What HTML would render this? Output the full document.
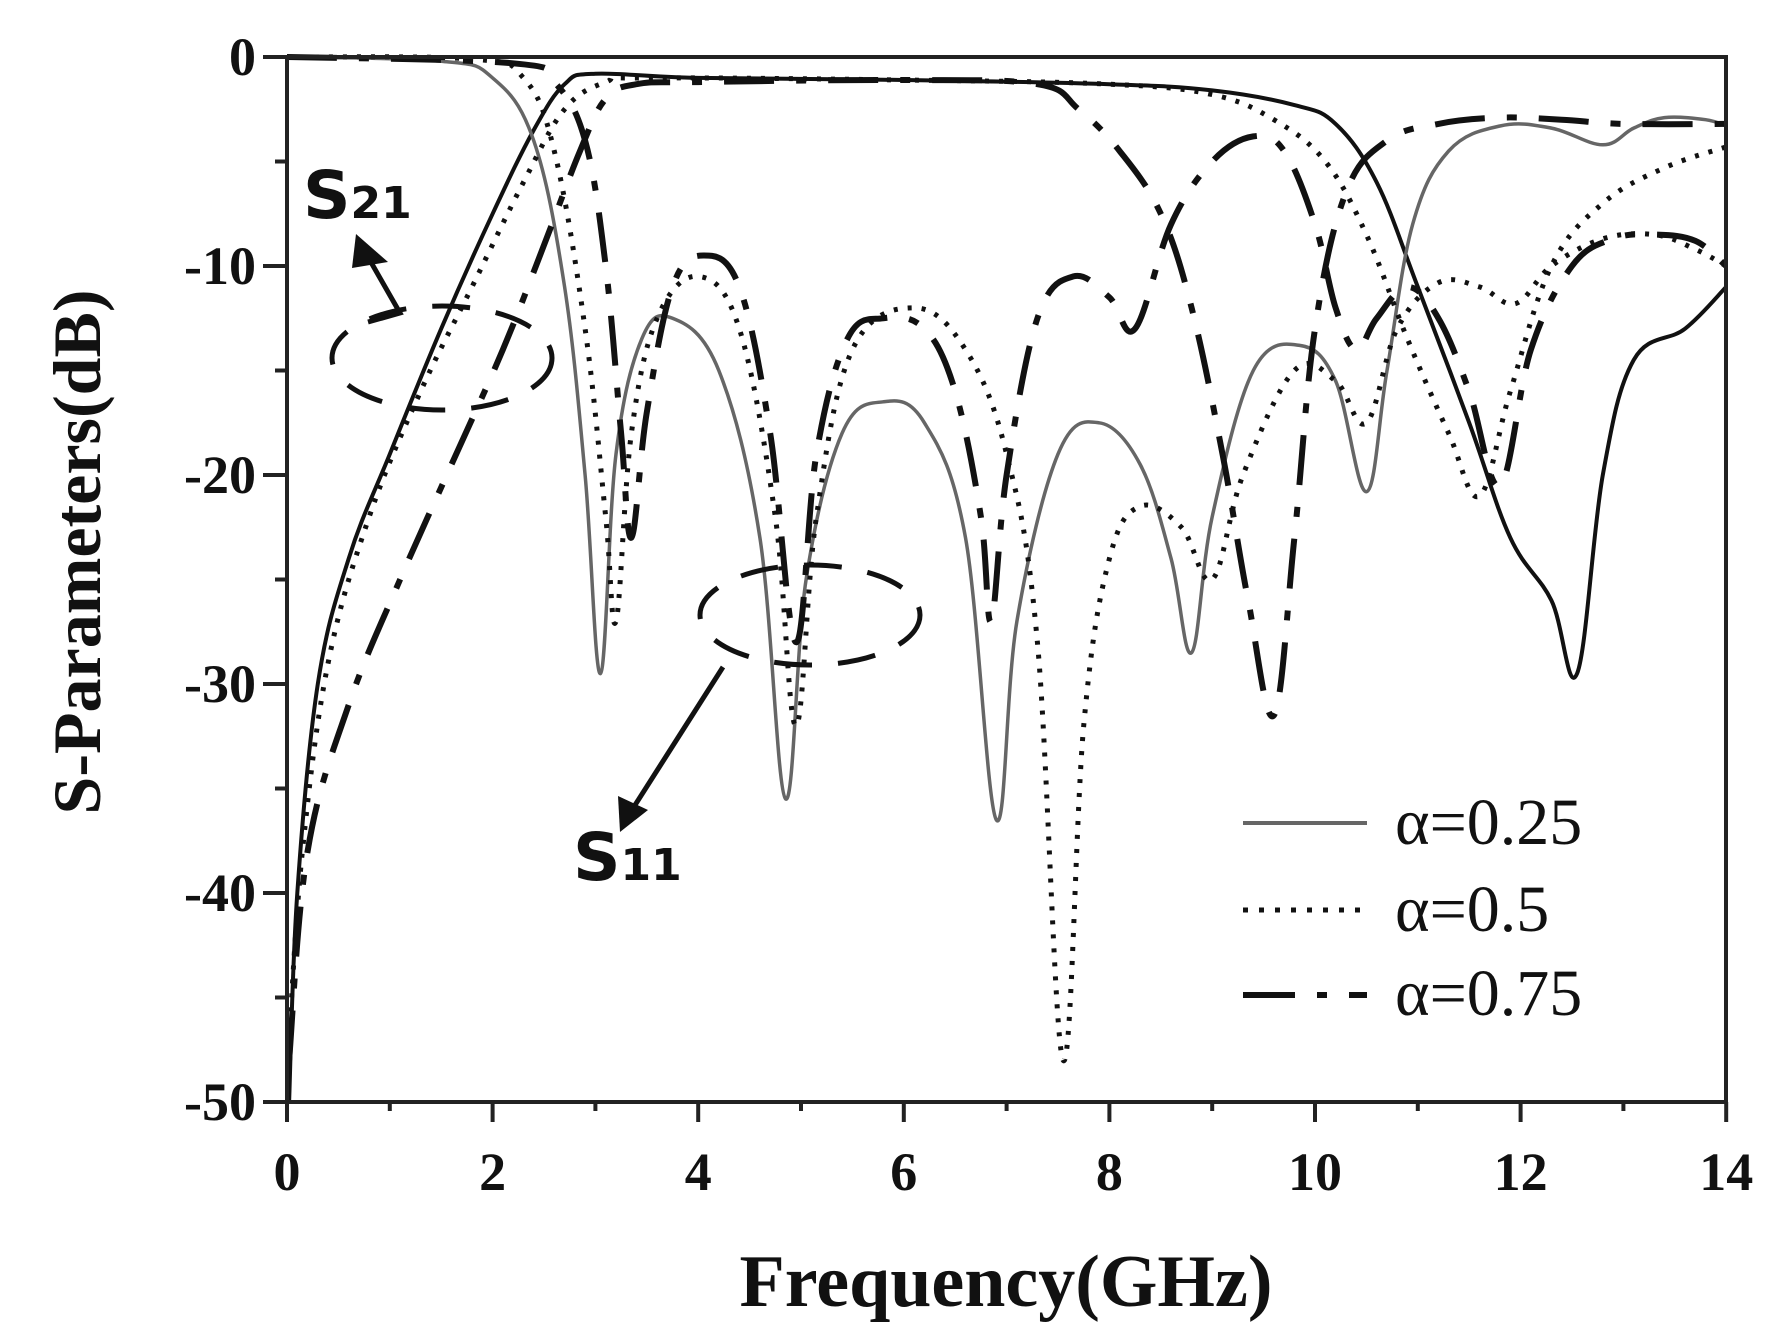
<!DOCTYPE html>
<html><head><meta charset="utf-8"><style>
html,body{margin:0;padding:0;background:#fff}
svg{display:block}
.tk{font-family:"Liberation Serif",serif;font-weight:bold;font-size:54px;fill:#111}
</style></head><body>
<svg id="s" width="1791" height="1342" viewBox="0 0 1791 1342" xmlns="http://www.w3.org/2000/svg">
<rect width="1791" height="1342" fill="#fff"/>
<g id="curves" fill="none" stroke-linejoin="round"></g>
<rect x="287" y="57" width="1439" height="1045" fill="none" stroke="#222" stroke-width="4"/>
<g id="ticks" stroke="#222" stroke-width="4"></g>
<g id="labels"></g>
<text x="1006" y="1306" text-anchor="middle" font-family="Liberation Serif,serif" font-weight="bold" font-size="74" fill="#111">Frequency(GHz)</text>
<text transform="translate(100,552) rotate(-90)" text-anchor="middle" font-family="Liberation Serif,serif" font-weight="bold" font-size="68" fill="#111">S-Parameters(dB)</text>
<ellipse cx="442" cy="358" rx="110" ry="52" fill="none" stroke="#111" stroke-width="5" stroke-dasharray="38,26"/>
<ellipse cx="810" cy="615" rx="110" ry="50" fill="none" stroke="#111" stroke-width="5" stroke-dasharray="38,26"/>
<polyline points="368,322 400,313 364,250" fill="none" stroke="#111" stroke-width="5"/>
<polygon points="356,234 388,262 352,268" fill="#111"/>
<line x1="723" y1="667" x2="630" y2="813" stroke="#111" stroke-width="5"/>
<polygon points="620,832 618,796 648,810" fill="#111"/>
<text x="303" y="218" font-family="DejaVu Sans,sans-serif" font-weight="bold" font-size="66" fill="#111">S<tspan font-size="44">21</tspan></text>
<text x="573" y="880" font-family="DejaVu Sans,sans-serif" font-weight="bold" font-size="66" fill="#111">S<tspan font-size="44">11</tspan></text>
<line x1="1243" y1="823" x2="1367" y2="823" stroke="#666" stroke-width="4"/>
<line x1="1243" y1="910" x2="1367" y2="910" stroke="#111" stroke-width="5" stroke-dasharray="5,11"/>
<line x1="1243" y1="995" x2="1367" y2="995" stroke="#111" stroke-width="6" stroke-dasharray="52,22,10,22,16,0"/>
<g font-family="Liberation Serif,serif" font-size="66" fill="#111">
<text x="1395" y="844">α=0.25</text>
<text x="1395" y="931">α=0.5</text>
<text x="1395" y="1015">α=0.75</text>
</g>
</svg>
<script>
var X=function(f){return 287+102.8*f}, Y=function(d){return 57-20.9*d};
var NS="http://www.w3.org/2000/svg";
function path(pts,attrs){
  var p=pts.map(function(a){return [X(a[0]),Y(a[1])]});
  var d="M"+p[0][0].toFixed(1)+","+p[0][1].toFixed(1);
  for(var i=0;i<p.length-1;i++){
    var p0=p[i-1]||p[i],p1=p[i],p2=p[i+1],p3=p[i+2]||p2;
    var t=0.18;
    var c1=[p1[0]+(p2[0]-p0[0])*t,p1[1]+(p2[1]-p0[1])*t];
    var c2=[p2[0]-(p3[0]-p1[0])*t,p2[1]-(p3[1]-p1[1])*t];
    d+="C"+c1[0].toFixed(1)+","+c1[1].toFixed(1)+" "+c2[0].toFixed(1)+","+c2[1].toFixed(1)+" "+p2[0].toFixed(1)+","+p2[1].toFixed(1);
  }
  var e=document.createElementNS(NS,"path");e.setAttribute("d",d);
  for(var k in attrs)e.setAttribute(k,attrs[k]);
  document.getElementById("curves").appendChild(e);
}
var solidG={stroke:"#666","stroke-width":3.5};
var solidB={stroke:"#111","stroke-width":4};
var dot={stroke:"#111","stroke-width":5,"stroke-dasharray":"4,10","stroke-linecap":"butt"};
var dd={stroke:"#111","stroke-width":6,"stroke-dasharray":"50,22,10,22"};
path([[0.02,-50],[0.1,-40],[0.3,-30],[0.6,-24],[1.0,-19],[1.5,-13],[2.0,-7.5],[2.4,-3.5],[2.7,-1.3],[3.0,-0.8],[4,-1],[6,-1.1],[8,-1.3],[9,-1.6],[9.8,-2.3],[10.2,-3.2],[10.6,-6],[11.0,-11],[11.5,-17.5],[11.9,-23],[12.3,-26],[12.55,-29.5],[12.8,-20],[13.1,-14.5],[13.6,-13],[14,-11]],solidB);
path([[0,0],[1.5,-0.2],[2.0,-1],[2.4,-4],[2.7,-11],[2.9,-20],[3.05,-29.5],[3.2,-19],[3.45,-13.5],[3.75,-12.5],[4.2,-15],[4.6,-23],[4.85,-35.5],[5.05,-25],[5.4,-18],[5.8,-16.5],[6.2,-17.5],[6.6,-23],[6.9,-36.5],[7.1,-27],[7.5,-19],[7.9,-17.5],[8.3,-19.5],[8.6,-24],[8.8,-28.5],[9.0,-22],[9.4,-15],[9.85,-13.8],[10.2,-15.5],[10.5,-20.8],[10.7,-15],[10.95,-8],[11.3,-4.5],[11.8,-3.3],[12.3,-3.4],[12.8,-4.2],[13.1,-3.4],[13.4,-2.9],[13.8,-3],[14,-3.3]],solidG);
path([[0.02,-47],[0.15,-38],[0.4,-29],[0.8,-22],[1.3,-16],[1.8,-11],[2.3,-6],[2.7,-2.5],[3.1,-1.2],[3.5,-1],[6,-1.1],[8,-1.3],[9,-1.8],[9.6,-3],[10.1,-5],[10.5,-8.5],[10.9,-13.5],[11.3,-18],[11.6,-21],[11.9,-16],[12.3,-10],[12.8,-7],[13.4,-5.3],[14,-4.3]],dot);
path([[0,0],[1.8,-0.1],[2.3,-1],[2.6,-4.5],[2.9,-13],[3.1,-22],[3.2,-27],[3.35,-18],[3.6,-12.5],[4.0,-10.5],[4.4,-13],[4.75,-22],[4.95,-32],[5.15,-22],[5.5,-14],[6.1,-12],[6.6,-14],[7.0,-19],[7.3,-28],[7.55,-48],[7.75,-32],[8.0,-24],[8.3,-21.5],[8.7,-22.5],[9.0,-25],[9.3,-20],[9.8,-15],[10.2,-15.5],[10.5,-17.5],[10.8,-13],[11.2,-10.8],[11.6,-11],[11.95,-11.8],[12.3,-10],[12.8,-8.7],[13.3,-8.5],[13.7,-9.2],[14,-10]],dot);
path([[0.02,-48],[0.2,-38],[0.6,-31],[1.1,-25],[1.6,-19.5],[2.1,-14],[2.5,-9],[2.85,-4.5],[3.1,-2],[3.4,-1.3],[4,-1.2],[6,-1.1],[7.3,-1.3],[7.7,-2.5],[8.1,-4.5],[8.5,-7.5],[8.8,-12],[9.1,-19],[9.35,-26],[9.6,-31.5],[9.8,-23],[10.0,-13],[10.3,-6.5],[10.7,-4],[11.2,-3.2],[11.8,-2.9],[12.4,-3],[13,-3.2],[14,-3.2]],dd);
path([[0,0],[2.2,-0.3],[2.6,-1.2],[2.9,-4],[3.1,-10],[3.25,-18],[3.35,-23],[3.5,-17],[3.75,-11],[4.05,-9.5],[4.4,-11],[4.7,-18],[4.95,-28],[5.15,-19],[5.45,-13.5],[5.8,-12.5],[6.2,-13],[6.5,-16],[6.75,-22],[6.85,-27],[7.0,-20],[7.3,-12.5],[7.65,-10.5],[8.0,-11.5],[8.25,-13],[8.6,-8],[9.0,-5],[9.4,-3.8],[9.7,-4.5],[10.0,-8],[10.2,-12],[10.4,-14],[10.6,-12.5],[10.9,-11],[11.2,-12.5],[11.5,-16],[11.8,-20.5],[12.1,-14],[12.5,-10],[12.9,-8.7],[13.3,-8.5],[13.7,-8.8],[14,-10]],dd);
var T=document.getElementById("ticks"),L=document.getElementById("labels");
function ln(x1,y1,x2,y2){var e=document.createElementNS(NS,"line");e.setAttribute("x1",x1);e.setAttribute("y1",y1);e.setAttribute("x2",x2);e.setAttribute("y2",y2);T.appendChild(e);}
function tx(x,y,s,a){var e=document.createElementNS(NS,"text");e.setAttribute("x",x);e.setAttribute("y",y);e.setAttribute("class","tk");e.setAttribute("text-anchor",a);e.textContent=s;L.appendChild(e);}
for(var f=0;f<=14;f++){var x=X(f);if(f%2==0){ln(x,1102,x,1122);tx(x,1190,""+f,"middle");}else ln(x,1102,x,1111);}
for(var d=0;d>=-50;d-=5){var y=Y(d);if(d%10==0){ln(263,y,287,y);tx(256,y+18,d==0?"0":("-"+(-d)),"end");}else ln(275,y,287,y);}
</script>
</body></html>
